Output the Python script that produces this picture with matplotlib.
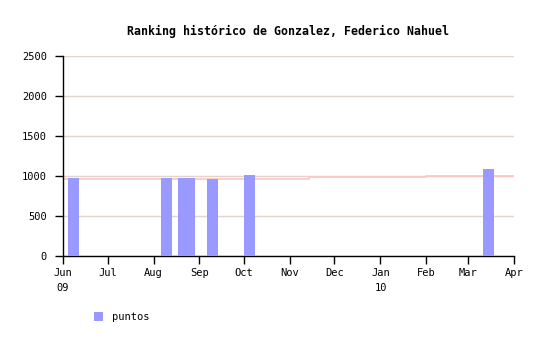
import datetime as dt
import matplotlib
matplotlib.use('Agg')
import matplotlib.pyplot as plt
import matplotlib.dates as mdates

# weekly ranking points
bar_dates = [dt.date(2009, 6, 8), dt.date(2009, 8, 10), dt.date(2009, 8, 21),
             dt.date(2009, 8, 25), dt.date(2009, 9, 10), dt.date(2009, 10, 5),
             dt.date(2010, 3, 15)]
bar_values = [978, 978, 978, 978, 966, 1007, 1092]

# pink reference line (step)
line_dates = [dt.date(2009, 6, 1), dt.date(2009, 11, 14), dt.date(2009, 11, 14),
              dt.date(2010, 2, 1), dt.date(2010, 2, 1), dt.date(2010, 4, 1)]
line_values = [962, 962, 984, 984, 998, 998]

tick_dates = [dt.date(2009, m, 1) for m in range(6, 13)] + [dt.date(2010, m, 1) for m in range(1, 5)]
tick_labels = ['Jun\n09', 'Jul', 'Aug', 'Sep', 'Oct', 'Nov', 'Dec', 'Jan\n10', 'Feb', 'Mar', 'Apr']

plt.rcParams['font.family'] = 'DejaVu Sans Mono'

fig = plt.figure(figsize=(5.46, 3.40), dpi=100)
ax = fig.add_axes([0.1154, 0.247, 0.826, 0.588])

ax.bar(bar_dates, bar_values, width=7.5, color='#9999ff', label='puntos', zorder=3)
ax.plot(line_dates, line_values, color='#ffc4c4', linewidth=1.2, zorder=2)

ax.set_xlim(dt.date(2009, 6, 1), dt.date(2010, 4, 1))
ax.set_ylim(0, 2500)
ax.set_yticks([0, 500, 1000, 1500, 2000, 2500])
ax.set_xticks(tick_dates)
ax.set_xticklabels(tick_labels, fontsize=7.5, ha='center', linespacing=1.6)
ax.tick_params(axis='y', labelsize=7.5, direction='out', length=5.5, width=1, pad=6)
ax.tick_params(axis='x', direction='out', length=5.5, width=1, pad=3)
ax.yaxis.grid(True, color='#e0d6cc', linewidth=1, zorder=0)
ax.set_axisbelow(True)
for side in ('top', 'right'):
    ax.spines[side].set_visible(False)
for side in ('left', 'bottom'):
    ax.spines[side].set_linewidth(1)

fig.text(0.527, 0.908, 'Ranking histórico de Gonzalez, Federico Nahuel',
         ha='center', va='center', fontsize=8.4, fontweight='bold')

fig.legend(loc='lower left', bbox_to_anchor=(0.155, 0.025), frameon=False,
           fontsize=7.5, handlelength=0.9, handleheight=0.9, handletextpad=0.8)

fig.savefig('out.png', dpi=100)
